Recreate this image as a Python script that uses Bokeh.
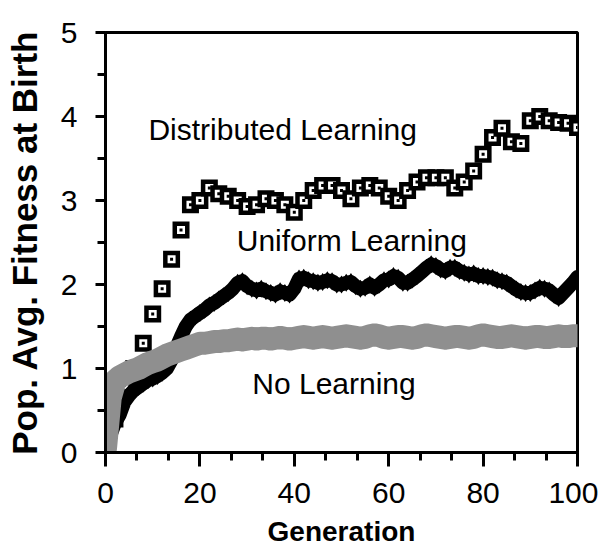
from bokeh.plotting import figure
from bokeh.models import Range1d, SingleIntervalTicker, Label, ColumnDataSource
from bokeh.embed import file_html
from bokeh.resources import INLINE

# ---- data ----
gen_d = list(range(0, 101, 2))
distributed = [0.05, 0.40, 0.80, 1.00, 1.30, 1.65, 1.95, 2.30, 2.65, 2.95,
               3.00, 3.15, 3.08, 3.05, 3.00, 2.93, 2.95, 3.02, 3.00, 2.95,
               2.86, 3.00, 3.12, 3.18, 3.18, 3.12, 3.02, 3.15, 3.18, 3.15,
               3.05, 3.00, 3.12, 3.22, 3.27, 3.27, 3.27, 3.15, 3.22, 3.35,
               3.55, 3.75, 3.86, 3.70, 3.68, 3.95, 4.00, 3.95, 3.93, 3.92,
               3.87]

gen = list(range(0, 101))
uniform = [0.05, 0.20, 0.35, 0.45, 0.60, 0.68, 0.74, 0.78, 0.82, 0.86,
           0.88, 0.91, 0.95, 1.00, 1.10, 1.25, 1.38, 1.50, 1.58, 1.62,
           1.66, 1.70, 1.75, 1.78, 1.82, 1.86, 1.90, 1.95, 2.02, 2.04,
           1.98, 1.95, 1.93, 1.95, 1.92, 1.90, 1.88, 1.92, 1.90, 1.88,
           1.95, 2.07, 2.08, 2.05, 2.04, 2.02, 2.03, 2.05, 2.04, 2.00,
           2.00, 2.02, 2.03, 1.98, 1.95, 1.96, 2.00, 1.96, 2.00, 2.05,
           2.06, 2.10, 2.08, 2.02, 2.02, 2.06, 2.10, 2.15, 2.20, 2.24,
           2.22, 2.18, 2.16, 2.20, 2.20, 2.16, 2.14, 2.12, 2.13, 2.10,
           2.10, 2.09, 2.08, 2.05, 2.04, 2.02, 1.98, 1.94, 1.91, 1.90,
           1.90, 1.93, 1.96, 1.95, 1.93, 1.88, 1.84, 1.90, 1.96, 2.02,
           2.09]
no_learning = [0.05, 0.65, 0.85, 0.90, 0.93, 0.96, 0.98, 1.00, 1.03, 1.06,
               1.08, 1.10, 1.13, 1.16, 1.18, 1.20, 1.22, 1.24, 1.26, 1.28,
               1.30, 1.30, 1.31, 1.32, 1.32, 1.33, 1.33, 1.34, 1.35, 1.34,
               1.35, 1.36, 1.35, 1.36, 1.36, 1.35, 1.36, 1.37, 1.36, 1.35,
               1.36, 1.37, 1.38, 1.37, 1.36, 1.37, 1.38, 1.37, 1.36, 1.37,
               1.38, 1.39, 1.38, 1.37, 1.36, 1.37, 1.39, 1.40, 1.39, 1.37,
               1.36, 1.37, 1.38, 1.38, 1.37, 1.36, 1.37, 1.39, 1.40, 1.39,
               1.38, 1.37, 1.36, 1.37, 1.38, 1.38, 1.37, 1.36, 1.37, 1.39,
               1.40, 1.39, 1.38, 1.37, 1.37, 1.38, 1.39, 1.38, 1.37, 1.36,
               1.37, 1.38, 1.38, 1.37, 1.37, 1.38, 1.39, 1.38, 1.38, 1.39,
               1.39]

series_labels = ["Distributed Learning", "Uniform Learning", "No Learning"]
label_pos = [(9.1, 3.85), (27.8, 2.52), (31.1, 0.82)]

x_label = "Generation"
y_label = "Pop. Avg. Fitness at Birth"

FONT = "Liberation Sans"

p = figure(frame_width=472, frame_height=420,
           min_border_left=105, min_border_right=21, min_border_top=32, min_border_bottom=90,
           x_range=Range1d(0, 100), y_range=Range1d(0, 5),
           output_backend="svg", toolbar_location=None, tools="")
p.background_fill_color = "white"
p.border_fill_color = "white"
p.grid.visible = False
p.outline_line_color = "black"
p.outline_line_width = 3

p.xaxis.ticker = SingleIntervalTicker(interval=20, num_minor_ticks=3)
p.yaxis.ticker = SingleIntervalTicker(interval=1, num_minor_ticks=2)
for ax in (p.xaxis, p.yaxis):
    ax.axis_line_width = 3
    ax.axis_line_color = "black"
    ax.major_tick_line_width = 3
    ax.minor_tick_line_width = 3
    ax.major_tick_in = 0
    ax.minor_tick_in = 0
    ax.major_label_text_font = FONT
    ax.major_label_text_font_size = "30px"
    ax.major_label_text_color = "black"
    ax.axis_label_text_font = FONT
    ax.axis_label_text_font_style = "bold"
    ax.axis_label_text_color = "black"
p.xaxis.major_tick_out = 14
p.xaxis.minor_tick_out = 8
p.yaxis.major_tick_out = 10
p.yaxis.minor_tick_out = 8
p.xaxis.major_label_standoff = 16
p.yaxis.major_label_standoff = 18
p.xaxis.axis_label = x_label
p.yaxis.axis_label = y_label
p.xaxis.axis_label_text_font_size = "28px"
p.yaxis.axis_label_text_font_size = "35px"
p.xaxis.axis_label_standoff = 10
p.yaxis.axis_label_standoff = 14

# Distributed learning: layered square markers drawn point by point
dx, dy, dsz, dcol = [], [], [], []
for g, v in zip(gen_d, distributed):
    for s, c in ((17, "black"), (8, "white"), (3, "black")):
        dx.append(g)
        dy.append(v)
        dsz.append(s)
        dcol.append(c)
src_d = ColumnDataSource(dict(x=dx, y=dy, sz=dsz, col=dcol))
p.scatter("x", "y", source=src_d, marker="square", size="sz",
          fill_color="col", line_color=None)

# Uniform learning: thick black band of diamonds
p.line(gen, uniform, line_width=14, line_color="black", line_join="round", line_cap="round")
p.scatter(gen, uniform, marker="diamond", size=18, fill_color="black", line_color=None)

# No learning: gray stippled band
p.line(gen, no_learning, line_width=23, line_color="#8f8f8f", line_join="round", line_cap="round")

for txt, (lx, ly) in zip(series_labels, label_pos):
    p.add_layout(Label(x=lx, y=ly, text=txt, text_font=FONT, text_font_size="30px",
                       text_baseline="middle", text_align="left", text_color="black"))

open("out.html", "w").write(file_html(p, INLINE))
